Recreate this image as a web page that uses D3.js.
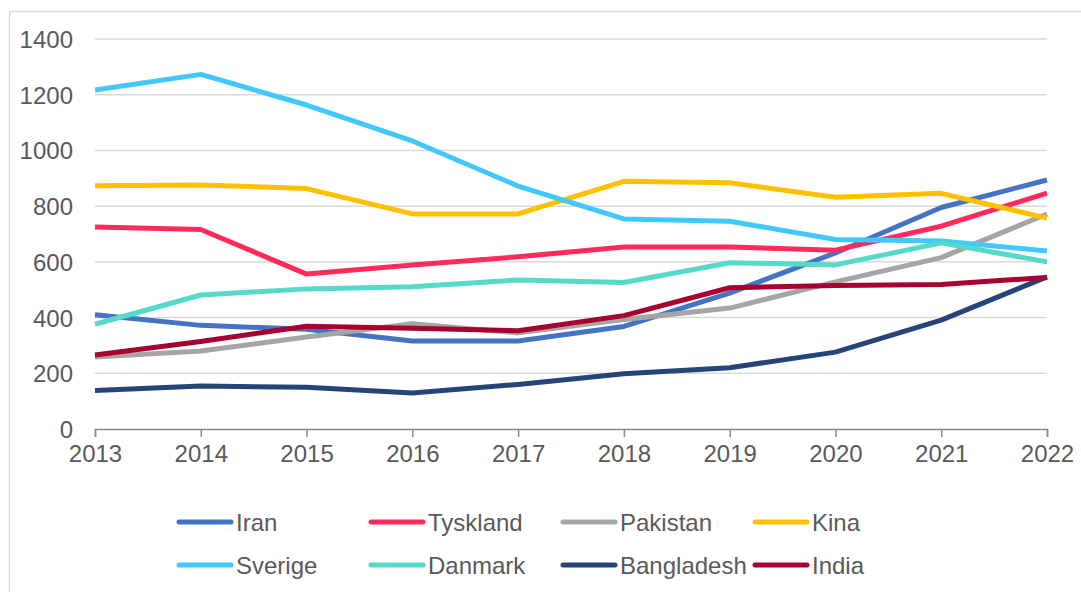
<!DOCTYPE html>
<html>
<head>
<meta charset="utf-8">
<script src="https://cdn.jsdelivr.net/npm/d3@7"></script>
<style>
  body { margin: 0; background: #fff; }
  svg { display: block; font-family: "Liberation Sans", Arial, sans-serif; }
</style>
</head>
<body>
<svg id="chart" width="1081" height="592"></svg>
<script>
// Years on the x axis
var years = [2013, 2014, 2015, 2016, 2017, 2018, 2019, 2020, 2021, 2022];
var yTicks = [0, 200, 400, 600, 800, 1000, 1200, 1400];

// Series values
var iran       = [410, 372, 358, 316, 316, 368, 488, 632, 795, 894];
var tyskland   = [725, 716, 556, 589, 618, 653, 653, 642, 728, 847];
var pakistan   = [258, 280, 330, 378, 345, 393, 434, 528, 615, 772];
var kina       = [873, 876, 863, 772, 772, 889, 884, 832, 846, 757];
var sverige    = [1217, 1273, 1163, 1034, 872, 754, 746, 680, 675, 639];
var danmark    = [376, 481, 503, 511, 535, 526, 597, 589, 668, 600];
var bangladesh = [138, 154, 150, 129, 160, 198, 220, 276, 391, 546];
var india      = [266, 314, 369, 362, 353, 407, 507, 515, 519, 544];

var names  = ["Iran", "Tyskland", "Pakistan", "Kina", "Sverige", "Danmark", "Bangladesh", "India"];
var colors = ["#4472C4", "#FF2B5C", "#A5A5A5", "#FFC000", "#42C8FF", "#55D9C9", "#264478", "#A8002F"];
var values = [iran, tyskland, pakistan, kina, sverige, danmark, bangladesh, india];

var svg = d3.select("#chart");

// outer frame
svg.append("rect")
  .attr("x", 9.5).attr("y", 11.5)
  .attr("width", 1200).attr("height", 700)
  .style("fill", "none")
  .style("stroke", "#D9D9D9")
  .style("stroke-width", 1.5);

var x = d3.scaleLinear().domain([2013, 2022]).range([95, 1047]);
var y = d3.scaleLinear().domain([0, 1400]).range([429, 39]);

// gridlines
svg.append("g")
  .selectAll("line")
  .data(yTicks.filter(d => d > 0))
  .enter().append("line")
  .attr("x1", 95).attr("x2", 1047)
  .attr("y1", d => y(d)).attr("y2", d => y(d))
  .style("stroke", "#D9D9D9")
  .style("stroke-width", 1.5);

// y labels
svg.append("g")
  .selectAll("text")
  .data(yTicks)
  .enter().append("text")
  .attr("x", 73)
  .attr("y", d => y(d) + 9)
  .attr("text-anchor", "end")
  .style("font-size", "24px")
  .style("fill", "#595959")
  .text(d => d);

// x axis
var xAxis = d3.axisBottom(x)
  .tickValues(years)
  .tickFormat(d3.format("d"))
  .tickSize(8)
  .tickPadding(8);

var gx = svg.append("g")
  .attr("transform", "translate(0,429)")
  .call(xAxis);
gx.select(".domain").style("stroke", "#898989").style("stroke-width", 1.5);
gx.selectAll(".tick line").style("stroke", "#898989").style("stroke-width", 1.5);
gx.selectAll(".tick text")
  .style("font-size", "24px")
  .style("font-family", "'Liberation Sans', Arial, sans-serif")
  .style("fill", "#595959");

// lines
var line = d3.line()
  .x((d, i) => x(years[i]))
  .y(d => y(d));

svg.append("g")
  .selectAll("path")
  .data(values)
  .enter().append("path")
  .attr("d", line)
  .style("fill", "none")
  .style("stroke", (d, i) => colors[i])
  .style("stroke-width", 5)
  .style("stroke-linejoin", "round");

// legend, 4 per row
var legend = svg.append("g")
  .selectAll("g")
  .data(names)
  .enter().append("g")
  .attr("transform", (d, i) => "translate(" + (179 + (i % 4) * 192) + "," + (522 + Math.floor(i / 4) * 43) + ")");

legend.append("line")
  .attr("x1", 0).attr("x2", 52)
  .style("stroke", (d, i) => colors[i])
  .style("stroke-width", 5)
  .style("stroke-linecap", "round");

legend.append("text")
  .attr("x", 57)
  .attr("y", 9)
  .style("font-size", "24px")
  .style("fill", "#595959")
  .text(d => d);
</script>
</body>
</html>
